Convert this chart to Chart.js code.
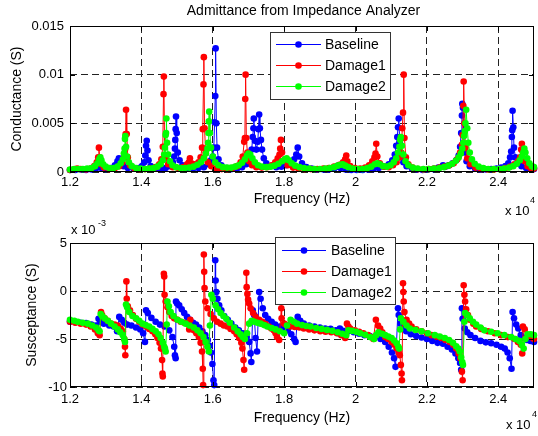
<!DOCTYPE html>
<html lang="en">
<head>
<meta charset="UTF-8">
<title>Admittance from Impedance Analyzer</title>
<script src="https://cdn.jsdelivr.net/npm/chart.js@4.4.3/dist/chart.umd.min.js"></script>
<style>
  body { margin: 0; background: #fff; }
  #wrap { position: relative; width: 538px; height: 436px; overflow: hidden; }
  canvas { position: absolute; left: 0; }
</style>
</head>
<body>
<div id="wrap">
  <canvas id="gChart" width="538" height="218" style="top:0"></canvas>
  <canvas id="bChart" width="538" height="218" style="top:218px"></canvas>
</div>
<script>
// frequency in units of 1e4 Hz, conductance in mS, susceptance in 1e-3 S
const seriesNames = ['Baseline', 'Damage1', 'Damage2'];
const seriesColors = ['#0000ff', '#ff0000', '#00ff00'];

const xTicks = [1.2, 1.4, 1.6, 1.8, 2.0, 2.2, 2.4];
const xTickLabels = ['1.2', '1.4', '1.6', '1.8', '2', '2.2', '2.4'];
const gTicks = [0, 5, 10, 15];
const gTickLabels = ['0', '0.005', '0.01', '0.015'];
const bTicks = [-10, -5, 0, 5];
const bTickLabels = ['-10', '-5', '0', '5'];

// Conductance
const baselineG = [
  [1.200,0.2],[1.215,0.2],[1.230,0.25],[1.245,0.2],[1.260,0.25],[1.272,0.35],[1.278,0.5],[1.283,0.6],[1.288,0.4],
  [1.300,0.3],[1.315,0.4],[1.326,0.7],[1.333,1.1],[1.337,1.4],[1.342,1.0],[1.350,0.6],[1.362,0.4],[1.378,0.35],
  [1.392,0.4],[1.402,0.6],[1.408,1.0],[1.411,1.7],[1.413,2.7],[1.415,3.2],[1.417,2.2],[1.420,1.2],[1.426,0.6],
  [1.440,0.35],[1.455,0.3],[1.468,0.4],[1.480,0.6],[1.488,1.0],[1.492,1.6],[1.494,2.4],[1.495,3.3],[1.496,4.4],
  [1.497,5.7],[1.499,4.0],[1.502,2.0],[1.507,1.2],[1.515,0.7],[1.530,0.4],[1.545,0.35],[1.560,0.4],[1.575,0.5],
  [1.587,0.8],[1.595,1.2],[1.600,1.6],[1.603,2.5],[1.605,5.1],[1.607,7.8],[1.608,12.7],[1.610,5.0],[1.612,2.5],
  [1.616,1.3],[1.624,0.7],[1.638,0.4],[1.653,0.3],[1.668,0.35],[1.682,0.5],[1.694,0.8],[1.703,1.3],[1.709,2.3],
  [1.712,3.6],[1.714,4.5],[1.715,5.5],[1.718,3.2],[1.722,2.3],[1.726,3.1],[1.728,4.4],[1.730,5.9],[1.732,4.5],
  [1.735,3.3],[1.738,2.3],[1.743,1.4],[1.750,0.9],[1.762,0.6],[1.778,0.5],[1.792,0.55],[1.805,0.7],[1.818,0.9],
  [1.828,1.3],[1.834,1.8],[1.838,2.5],[1.842,1.6],[1.850,0.9],[1.862,0.5],[1.877,0.35],[1.893,0.25],[1.910,0.25],
  [1.925,0.25],[1.940,0.35],[1.948,0.55],[1.952,0.65],[1.958,0.4],[1.972,0.25],[1.988,0.2],[2.003,0.2],[2.020,0.2],
  [2.035,0.25],[2.050,0.3],[2.065,0.4],[2.080,0.55],[2.093,0.8],[2.103,1.2],[2.110,1.8],[2.114,2.7],[2.117,3.6],
  [2.119,4.6],[2.121,5.5],[2.124,3.0],[2.128,1.7],[2.134,1.0],[2.143,0.6],[2.158,0.35],[2.173,0.25],[2.188,0.2],
  [2.203,0.25],[2.218,0.3],[2.232,0.45],[2.245,0.7],[2.255,0.6],[2.262,0.7],[2.272,0.9],[2.282,1.2],[2.289,1.7],
  [2.293,2.6],[2.296,4.0],[2.298,5.8],[2.299,7.0],[2.301,6.6],[2.303,4.0],[2.306,2.0],[2.311,1.1],[2.320,0.6],
  [2.335,0.35],[2.350,0.25],[2.365,0.25],[2.380,0.3],[2.395,0.35],[2.408,0.45],[2.420,0.6],[2.428,0.9],[2.433,1.5],
  [2.436,2.1],[2.438,3.6],[2.439,4.3],[2.440,6.3],[2.442,4.6],[2.444,2.5],[2.448,1.5],[2.455,0.9],[2.465,0.6],
  [2.478,0.4],[2.490,0.3],[2.500,0.3]
];
const damage1G = [
  [1.200,0.2],[1.210,0.25],[1.220,0.35],[1.230,0.3],[1.245,0.25],[1.258,0.35],[1.268,0.6],[1.275,1.0],[1.279,1.5],
  [1.281,2.5],[1.283,1.5],[1.287,0.8],[1.295,0.45],[1.310,0.3],[1.325,0.35],[1.338,0.6],[1.347,1.0],[1.352,1.6],
  [1.355,2.4],[1.356,3.9],[1.357,6.4],[1.359,3.9],[1.362,1.5],[1.368,0.7],[1.380,0.4],[1.395,0.3],[1.410,0.3],
  [1.425,0.35],[1.440,0.5],[1.450,0.8],[1.456,1.3],[1.460,2.6],[1.462,8.0],[1.463,9.8],[1.465,2.6],[1.468,1.4],
  [1.475,0.8],[1.488,0.5],[1.503,0.4],[1.518,0.5],[1.528,0.8],[1.533,1.0],[1.536,1.4],[1.540,0.9],[1.550,0.8],
  [1.560,1.0],[1.566,1.5],[1.570,2.5],[1.572,4.4],[1.574,9.0],[1.575,11.8],[1.577,4.5],[1.580,2.0],[1.586,1.0],
  [1.596,0.6],[1.610,0.35],[1.625,0.3],[1.640,0.3],[1.655,0.4],[1.668,0.6],[1.678,1.0],[1.684,1.6],[1.688,3.1],
  [1.690,3.5],[1.691,7.5],[1.692,10.0],[1.694,3.5],[1.697,2.0],[1.702,1.1],[1.710,0.7],[1.722,0.5],[1.737,0.45],
  [1.752,0.5],[1.765,0.7],[1.775,1.0],[1.782,1.4],[1.787,1.8],[1.789,2.4],[1.791,3.3],[1.794,2.0],[1.800,1.2],
  [1.810,0.7],[1.825,0.45],[1.840,0.35],[1.857,0.3],[1.875,0.3],[1.893,0.3],[1.910,0.35],[1.925,0.4],[1.940,0.55],
  [1.955,0.75],[1.965,1.0],[1.971,1.3],[1.974,1.7],[1.977,1.1],[1.985,0.6],[1.998,0.4],[2.013,0.35],[2.027,0.45],
  [2.038,0.7],[2.047,1.1],[2.053,1.5],[2.056,1.9],[2.058,2.9],[2.061,1.6],[2.068,0.9],[2.080,0.55],[2.093,0.5],
  [2.105,0.7],[2.115,1.0],[2.123,1.5],[2.128,2.0],[2.131,4.5],[2.133,6.1],[2.135,10.0],[2.137,3.5],[2.141,1.5],
  [2.148,0.8],[2.160,0.45],[2.175,0.3],[2.190,0.25],[2.205,0.3],[2.220,0.35],[2.235,0.45],[2.250,0.55],[2.263,0.7],
  [2.275,0.9],[2.285,1.3],[2.293,2.0],[2.298,2.8],[2.300,3.8],[2.302,6.8],[2.303,9.3],[2.305,5.0],[2.308,2.5],
  [2.313,1.4],[2.322,0.8],[2.336,0.45],[2.352,0.3],[2.370,0.25],[2.388,0.25],[2.405,0.3],[2.420,0.4],[2.433,0.55],
  [2.445,0.8],[2.455,1.1],[2.461,1.5],[2.464,2.3],[2.466,2.9],[2.469,2.0],[2.474,1.1],[2.482,0.6],[2.491,0.4],
  [2.500,0.35]
];
const damage2G = [
  [1.200,0.25],[1.212,0.3],[1.224,0.3],[1.236,0.3],[1.248,0.35],[1.260,0.4],[1.270,0.6],[1.277,0.9],[1.282,1.3],
  [1.285,1.5],[1.288,1.2],[1.293,0.8],[1.300,0.55],[1.310,0.4],[1.322,0.4],[1.333,0.55],[1.342,0.9],[1.348,1.3],
  [1.351,1.9],[1.353,2.4],[1.354,3.4],[1.355,3.7],[1.357,2.6],[1.360,1.6],[1.365,1.0],[1.373,0.6],[1.385,0.4],
  [1.398,0.35],[1.410,0.3],[1.422,0.35],[1.434,0.4],[1.445,0.55],[1.454,0.8],[1.460,1.2],[1.464,1.8],[1.466,2.5],
  [1.468,3.8],[1.469,4.0],[1.470,5.5],[1.472,3.0],[1.475,1.8],[1.480,1.1],[1.487,0.7],[1.497,0.5],[1.510,0.4],
  [1.522,0.4],[1.534,0.45],[1.546,0.55],[1.557,0.75],[1.567,1.0],[1.575,1.4],[1.581,1.9],[1.585,2.4],[1.587,3.0],
  [1.588,4.0],[1.589,5.2],[1.590,6.2],[1.592,4.0],[1.595,2.5],[1.600,1.6],[1.607,1.0],[1.616,0.7],[1.628,0.5],
  [1.640,0.45],[1.652,0.45],[1.663,0.55],[1.673,0.7],[1.682,0.95],[1.690,1.3],[1.696,1.7],[1.700,1.9],[1.705,1.8],
  [1.711,1.4],[1.718,1.0],[1.727,0.7],[1.738,0.55],[1.750,0.5],[1.762,0.55],[1.773,0.65],[1.784,0.85],[1.794,1.1],
  [1.802,1.3],[1.807,1.4],[1.813,1.2],[1.821,0.9],[1.831,0.65],[1.843,0.5],[1.856,0.4],[1.870,0.35],[1.885,0.3],
  [1.900,0.3],[1.915,0.35],[1.928,0.4],[1.940,0.5],[1.950,0.65],[1.958,0.75],[1.964,0.8],[1.971,0.65],[1.980,0.5],
  [1.992,0.35],[2.006,0.3],[2.020,0.3],[2.033,0.4],[2.044,0.55],[2.054,0.8],[2.061,0.9],[2.068,0.8],[2.077,0.6],
  [2.088,0.55],[2.098,0.7],[2.107,1.0],[2.114,1.4],[2.119,2.0],[2.123,2.6],[2.125,3.3],[2.127,3.6],[2.130,2.7],
  [2.134,1.8],[2.140,1.1],[2.148,0.7],[2.160,0.45],[2.174,0.35],[2.190,0.3],[2.205,0.3],[2.220,0.35],[2.235,0.4],
  [2.248,0.5],[2.260,0.65],[2.271,0.85],[2.281,1.15],[2.289,1.5],[2.295,1.9],[2.299,2.4],[2.302,3.0],[2.304,3.7],
  [2.306,4.2],[2.308,5.0],[2.310,6.4],[2.313,4.5],[2.316,3.0],[2.320,2.0],[2.326,1.3],[2.334,0.85],[2.345,0.55],
  [2.358,0.4],[2.372,0.3],[2.387,0.3],[2.402,0.3],[2.416,0.35],[2.430,0.45],[2.442,0.6],[2.452,0.85],[2.460,1.2],
  [2.466,1.6],[2.470,2.0],[2.473,2.4],[2.476,2.0],[2.481,1.4],[2.487,0.9],[2.494,0.6],[2.500,0.5]
];

// Susceptance
const baselineB = [
  [1.200,-3.2],[1.215,-3.25],[1.230,-3.3],[1.245,-3.35],[1.260,-3.5],[1.272,-3.6],[1.280,-2.9],[1.285,-3.2],
  [1.295,-3.4],[1.310,-3.6],[1.322,-3.7],[1.332,-4.2],[1.338,-2.7],[1.345,-3.0],[1.352,-3.3],[1.360,-3.5],
  [1.372,-3.6],[1.385,-3.8],[1.397,-4.0],[1.405,-4.4],[1.410,-5.3],[1.413,-2.0],[1.418,-2.3],[1.428,-2.8],
  [1.440,-3.2],[1.452,-3.5],[1.465,-3.7],[1.478,-4.1],[1.487,-4.8],[1.492,-5.8],[1.494,-6.7],[1.496,-7.0],
  [1.497,-1.1],[1.500,-1.3],[1.506,-1.5],[1.513,-1.9],[1.520,-2.3],[1.528,-2.7],[1.536,-3.0],[1.545,-3.3],
  [1.553,-3.5],[1.562,-3.8],[1.571,-4.2],[1.579,-4.6],[1.586,-5.1],[1.591,-5.7],[1.595,-6.4],[1.599,-7.6],
  [1.602,-9.3],[1.604,-9.8],[1.607,3.2],[1.608,1.1],[1.610,-0.1],[1.613,-0.8],[1.618,-1.5],[1.624,-2.0],
  [1.632,-2.6],[1.642,-3.0],[1.652,-3.4],[1.663,-3.8],[1.673,-4.1],[1.684,-4.4],[1.695,-4.8],[1.702,-5.3],
  [1.706,-6.5],[1.708,-7.4],[1.712,-2.0],[1.716,-2.5],[1.720,-4.9],[1.724,-6.3],[1.730,-0.1],[1.734,-0.8],
  [1.740,-1.8],[1.747,-2.5],[1.755,-2.9],[1.765,-3.2],[1.775,-3.5],[1.788,-3.7],[1.800,-3.9],[1.810,-4.1],
  [1.820,-4.5],[1.828,-5.0],[1.832,-5.3],[1.838,-2.7],[1.845,-3.1],[1.855,-3.4],[1.870,-3.6],[1.885,-3.7],
  [1.900,-3.8],[1.915,-3.9],[1.930,-3.95],[1.945,-4.1],[1.952,-4.4],[1.956,-3.9],[1.965,-4.15],[1.980,-4.2],
  [1.995,-4.3],[2.010,-4.45],[2.025,-4.6],[2.040,-4.7],[2.055,-4.8],[2.070,-5.0],[2.083,-5.3],[2.093,-5.8],
  [2.102,-6.4],[2.108,-7.0],[2.112,-7.9],[2.119,-1.8],[2.121,-2.5],[2.126,-3.4],[2.132,-3.9],[2.142,-4.2],
  [2.155,-4.5],[2.170,-4.7],[2.185,-4.85],[2.200,-5.0],[2.215,-5.2],[2.230,-5.4],[2.245,-5.5],[2.258,-5.8],
  [2.270,-6.1],[2.280,-6.5],[2.288,-7.0],[2.293,-7.5],[2.296,-8.2],[2.298,-1.8],[2.300,-2.9],[2.306,-3.9],
  [2.313,-4.3],[2.322,-4.6],[2.335,-4.9],[2.350,-5.2],[2.365,-5.35],[2.380,-5.45],[2.395,-5.6],[2.408,-5.8],
  [2.418,-6.0],[2.426,-6.4],[2.432,-7.0],[2.437,-8.1],[2.440,-2.2],[2.444,-2.85],[2.450,-3.5],[2.456,-3.9],
  [2.463,-4.6],[2.470,-4.9],[2.480,-5.1],[2.490,-5.2],[2.500,-5.3]
];
const damage1B = [
  [1.200,-3.2],[1.215,-3.3],[1.230,-3.4],[1.245,-3.5],[1.258,-3.7],[1.270,-4.0],[1.278,-4.4],[1.283,-4.6],
  [1.287,-2.2],[1.290,-2.5],[1.297,-2.85],[1.306,-3.1],[1.315,-3.4],[1.325,-3.5],[1.334,-3.6],[1.342,-3.9],
  [1.348,-4.2],[1.352,-5.0],[1.354,-5.8],[1.355,-6.7],[1.358,1.0],[1.359,-0.8],[1.362,-1.6],[1.368,-2.0],
  [1.376,-2.5],[1.385,-2.9],[1.394,-3.2],[1.403,-3.5],[1.413,-3.7],[1.422,-3.95],[1.431,-4.2],[1.439,-4.5],
  [1.445,-4.9],[1.451,-5.4],[1.455,-6.0],[1.458,-7.2],[1.459,-8.6],[1.460,-8.9],[1.463,1.8],[1.464,1.5],
  [1.465,-0.4],[1.468,-1.1],[1.473,-1.7],[1.478,-2.2],[1.485,-2.6],[1.492,-2.85],[1.501,-3.0],[1.510,-3.2],
  [1.520,-3.3],[1.529,-3.4],[1.534,-4.0],[1.537,-3.0],[1.542,-3.8],[1.547,-4.1],[1.554,-4.4],[1.561,-4.8],
  [1.566,-5.4],[1.570,-6.3],[1.572,-8.1],[1.573,-9.8],[1.575,3.8],[1.576,2.0],[1.577,0.3],[1.579,-1.1],
  [1.585,-1.8],[1.594,-2.4],[1.603,-2.85],[1.612,-3.2],[1.622,-3.4],[1.631,-3.6],[1.641,-3.7],[1.650,-3.95],
  [1.660,-4.2],[1.667,-4.5],[1.674,-4.9],[1.680,-5.4],[1.683,-6.0],[1.686,-7.2],[1.688,-8.2],[1.694,1.9],
  [1.695,0.4],[1.697,-0.3],[1.699,-0.9],[1.702,-1.3],[1.706,-1.8],[1.713,-2.3],[1.720,-2.7],[1.730,-3.0],
  [1.739,-3.2],[1.748,-3.45],[1.757,-3.7],[1.764,-3.9],[1.771,-4.1],[1.776,-4.4],[1.780,-4.8],[1.786,-5.1],
  [1.792,-1.8],[1.793,-2.85],[1.800,-3.4],[1.809,-3.55],[1.818,-3.7],[1.830,-3.75],[1.843,-3.8],[1.855,-3.9],
  [1.870,-4.0],[1.885,-4.1],[1.901,-4.2],[1.916,-4.25],[1.932,-4.3],[1.948,-4.4],[1.960,-4.6],[1.971,-4.9],
  [1.976,-3.4],[1.980,-3.7],[1.985,-3.9],[1.998,-4.1],[2.010,-4.25],[2.022,-4.4],[2.035,-4.6],[2.045,-4.8],
  [2.050,-5.0],[2.057,-3.0],[2.063,-3.6],[2.069,-3.9],[2.075,-4.3],[2.083,-4.8],[2.092,-5.0],[2.101,-5.3],
  [2.109,-5.6],[2.115,-6.0],[2.121,-6.4],[2.124,-6.7],[2.127,-7.7],[2.129,-8.6],[2.130,-9.3],[2.133,0.8],
  [2.134,-0.1],[2.135,-1.1],[2.137,-2.2],[2.143,-3.0],[2.150,-3.4],[2.157,-3.7],[2.170,-4.0],[2.185,-4.2],
  [2.200,-4.4],[2.213,-4.6],[2.227,-4.75],[2.240,-4.9],[2.252,-5.1],[2.264,-5.3],[2.274,-5.6],[2.282,-6.0],
  [2.289,-6.5],[2.294,-7.0],[2.298,-8.4],[2.300,-9.3],[2.303,0.6],[2.305,-0.4],[2.307,-1.1],[2.310,-1.9],
  [2.315,-2.5],[2.320,-3.0],[2.330,-3.4],[2.338,-3.7],[2.352,-3.95],[2.371,-4.2],[2.390,-4.4],[2.408,-4.6],
  [2.427,-4.8],[2.445,-5.0],[2.455,-5.3],[2.463,-5.6],[2.467,-6.5],[2.469,-3.7],[2.474,-4.0],[2.482,-4.6],
  [2.491,-4.8],[2.500,-5.0]
];
const damage2B = [
  [1.200,-3.0],[1.212,-3.1],[1.222,-3.2],[1.236,-3.3],[1.250,-3.4],[1.262,-3.6],[1.273,-3.8],[1.280,-4.1],
  [1.283,-4.2],[1.286,-2.4],[1.290,-2.6],[1.297,-2.85],[1.306,-3.1],[1.315,-3.4],[1.325,-3.7],[1.334,-4.0],
  [1.341,-4.3],[1.348,-4.6],[1.352,-5.0],[1.354,-5.3],[1.357,-1.4],[1.360,-1.7],[1.366,-2.2],[1.375,-2.6],
  [1.385,-2.85],[1.394,-3.1],[1.403,-3.4],[1.412,-3.55],[1.422,-3.7],[1.431,-3.95],[1.440,-4.2],[1.448,-4.5],
  [1.454,-4.9],[1.460,-5.4],[1.464,-5.8],[1.466,-6.0],[1.468,-6.3],[1.471,-3.5],[1.473,-1.1],[1.477,-1.6],
  [1.482,-2.2],[1.490,-2.6],[1.501,-3.0],[1.512,-3.2],[1.524,-3.4],[1.535,-3.6],[1.547,-3.8],[1.557,-4.1],
  [1.566,-4.4],[1.574,-4.8],[1.580,-5.3],[1.585,-5.8],[1.589,-6.3],[1.592,-3.6],[1.596,-0.4],[1.600,-0.8],
  [1.608,-1.5],[1.615,-1.9],[1.622,-2.3],[1.630,-2.6],[1.638,-2.9],[1.648,-3.3],[1.660,-3.8],[1.670,-4.2],
  [1.678,-4.5],[1.684,-4.8],[1.690,-5.0],[1.696,-4.4],[1.702,-3.4],[1.709,-3.1],[1.716,-3.2],[1.725,-3.3],
  [1.734,-3.4],[1.744,-3.55],[1.753,-3.7],[1.765,-3.85],[1.776,-4.0],[1.788,-4.2],[1.800,-4.4],[1.808,-3.6],
  [1.818,-3.0],[1.827,-3.2],[1.836,-3.4],[1.850,-3.55],[1.862,-3.65],[1.874,-3.7],[1.890,-3.85],[1.905,-3.95],
  [1.920,-4.05],[1.935,-4.15],[1.950,-4.3],[1.963,-4.45],[1.974,-4.6],[1.980,-4.1],[1.990,-4.15],[2.002,-4.25],
  [2.013,-4.4],[2.027,-4.55],[2.041,-4.8],[2.052,-5.0],[2.058,-4.6],[2.064,-4.3],[2.074,-4.45],[2.083,-4.6],
  [2.092,-4.75],[2.101,-4.9],[2.108,-5.15],[2.115,-5.45],[2.120,-5.8],[2.122,-6.0],[2.125,-4.0],[2.127,-2.85],
  [2.134,-3.2],[2.143,-3.6],[2.152,-3.9],[2.168,-4.05],[2.185,-4.2],[2.203,-4.4],[2.222,-4.6],[2.236,-4.75],
  [2.250,-4.9],[2.262,-5.1],[2.273,-5.4],[2.282,-5.75],[2.288,-6.0],[2.292,-6.3],[2.296,-6.9],[2.299,-7.4],
  [2.301,-7.7],[2.305,-3.2],[2.307,-2.3],[2.313,-2.5],[2.320,-2.85],[2.329,-3.2],[2.338,-3.5],[2.350,-3.8],
  [2.361,-4.1],[2.380,-4.25],[2.398,-4.4],[2.417,-4.6],[2.436,-4.8],[2.448,-5.0],[2.459,-5.2],[2.466,-5.6],
  [2.471,-6.0],[2.476,-5.0],[2.482,-4.5],[2.491,-4.5],[2.500,-4.6]
];

Chart.defaults.font.family = '"Liberation Sans", Arial, Helvetica, sans-serif';
Chart.defaults.color = '#000';

// box, inward ticks, free text and an in-plot legend, drawn the way matlab does
const decor = {
  id: 'decor',
  afterDraw(chart, args, o) {
    const ctx = chart.ctx, a = chart.chartArea;
    const xs = chart.scales.x, ys = chart.scales.y;
    ctx.save();
    ctx.setLineDash([]);
    ctx.strokeStyle = '#000';
    ctx.lineWidth = 1;
    ctx.strokeRect(a.left + 0.5, a.top + 0.5, a.right - a.left - 1, a.bottom - a.top - 1);
    ctx.beginPath();
    xs.ticks.forEach(t => {
      const p = Math.round(xs.getPixelForValue(t.value)) + 0.5;
      ctx.moveTo(p, a.bottom); ctx.lineTo(p, a.bottom - 5);
      ctx.moveTo(p, a.top); ctx.lineTo(p, a.top + 5);
    });
    ys.ticks.forEach(t => {
      const p = Math.round(ys.getPixelForValue(t.value)) + 0.5;
      ctx.moveTo(a.left, p); ctx.lineTo(a.left + 5, p);
      ctx.moveTo(a.right, p); ctx.lineTo(a.right - 5, p);
    });
    ctx.stroke();

    ctx.fillStyle = '#000';
    ctx.textBaseline = 'middle';
    (o.texts || []).forEach(t => {
      ctx.font = t.size + 'px ' + Chart.defaults.font.family;
      ctx.textAlign = t.align || 'left';
      ctx.fillText(t.text, t.x, t.y);
    });

    const lg = o.legend;
    if (lg) {
      ctx.fillStyle = '#fff';
      ctx.fillRect(lg.x, lg.y, lg.w, lg.h);
      ctx.strokeStyle = '#333';
      ctx.strokeRect(lg.x + 0.5, lg.y + 0.5, lg.w, lg.h);
      ctx.font = '14px ' + Chart.defaults.font.family;
      ctx.textAlign = 'left';
      chart.data.datasets.forEach((ds, i) => {
        const y = lg.rows[i];
        ctx.strokeStyle = ds.borderColor;
        ctx.beginPath();
        ctx.moveTo(lg.line[0], y + 0.5);
        ctx.lineTo(lg.line[1], y + 0.5);
        ctx.stroke();
        ctx.fillStyle = ds.borderColor;
        ctx.beginPath();
        ctx.arc((lg.line[0] + lg.line[1]) / 2, y + 0.5, 3.3, 0, Math.PI * 2);
        ctx.fill();
        ctx.fillStyle = '#000';
        ctx.fillText(ds.label, lg.textX, y + 1);
      });
    }
    ctx.restore();
  }
};

function makeChart(id, series, yTicks, yTickLabels, s) {
  const datasets = series.map((pts, i) => ({
    label: seriesNames[i],
    data: pts.map(p => ({ x: p[0], y: p[1] })),
    borderColor: seriesColors[i],
    backgroundColor: seriesColors[i],
    borderWidth: 1,
    pointRadius: 3.3,
    pointBorderWidth: 0,
    showLine: true,
    clip: false,
    order: series.length - i
  }));

  return new Chart(document.getElementById(id), {
    type: 'scatter',
    data: { datasets: datasets },
    options: {
      responsive: false,
      animation: false,
      devicePixelRatio: 1,
      layout: { padding: { left: 0, right: 1, top: s.top, bottom: 0 } },
      scales: {
        x: {
          type: 'linear', min: 1.2, max: 2.5,
          afterBuildTicks: sc => { sc.ticks = xTicks.map(v => ({ value: v })); },
          afterFit: sc => { sc.height = s.xHeight; },
          ticks: {
            padding: s.xPad, font: { size: 13 }, maxRotation: 0, autoSkip: false,
            callback: v => xTickLabels[xTicks.indexOf(v)]
          },
          grid: { color: '#222', lineWidth: 1, drawTicks: false },
          border: { display: false, dash: [7, 4] },
          title: { display: true, text: 'Frequency (Hz)', font: { size: 14 }, padding: { top: 0, bottom: s.xTitlePad } }
        },
        y: {
          type: 'linear', min: yTicks[0], max: yTicks[yTicks.length - 1],
          afterBuildTicks: sc => { sc.ticks = yTicks.map(v => ({ value: v })); },
          afterFit: sc => { sc.width = 70; },
          ticks: {
            padding: s.yPad, font: { size: 13 }, autoSkip: false,
            callback: v => yTickLabels[yTicks.indexOf(v)]
          },
          grid: { color: '#222', lineWidth: 1, drawTicks: false },
          border: { display: false, dash: [7, 4] },
          title: { display: true, text: s.yTitle, font: { size: 14 }, padding: { top: s.yTitlePad, bottom: 0 } }
        }
      },
      plugins: {
        legend: { display: false },
        tooltip: { enabled: false },
        decor: { texts: s.texts, legend: s.legend }
      }
    },
    plugins: [decor]
  });
}

makeChart('gChart', [baselineG, damage1G, damage2G], gTicks, gTickLabels, {
  top: 26, xHeight: 46, xPad: 3, yPad: 6, xTitlePad: 10.6, yTitlePad: 9,
  yTitle: 'Conductance (S)',
  texts: [
    { text: 'Admittance from Impedance Analyzer', x: 303.5, y: 11, size: 14, align: 'center' },
    { text: 'x 10', x: 505, y: 211, size: 13 },
    { text: '4', x: 530, y: 201, size: 9 }
  ],
  legend: { x: 270, y: 32, w: 120, h: 67, rows: [44, 65, 86], line: [276, 321], textX: 325 }
});

makeChart('bChart', [baselineB, damage1B, damage2B], bTicks, bTickLabels, {
  top: 25, xHeight: 49, xPad: 5, yPad: 3, xTitlePad: 9.6, yTitlePad: 24,
  yTitle: 'Susceptance (S)',
  texts: [
    { text: 'x 10', x: 71, y: 12, size: 13 },
    { text: '-3', x: 98, y: 6, size: 9 },
    { text: 'x 10', x: 506, y: 207, size: 13 },
    { text: '4', x: 532, y: 197, size: 9 }
  ],
  legend: { x: 275, y: 19, w: 120, h: 67, rows: [32, 53, 74], line: [282, 326], textX: 331 }
});
</script>
</body>
</html>
